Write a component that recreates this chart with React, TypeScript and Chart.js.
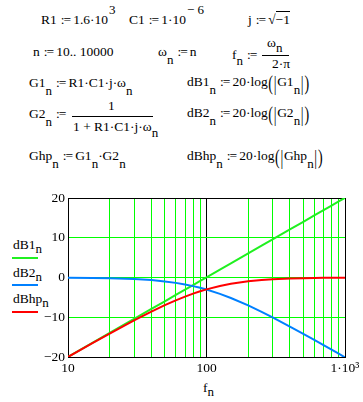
import React, { useEffect, useRef } from "react";
import { Chart, registerables } from "chart.js";
Chart.register(...registerables);

// frequency points (Hz) read along the log axis
const freqs = [10, 15, 20, 30, 40, 50, 60, 70, 80, 90, 100, 125, 150, 200, 250, 300, 400, 500, 600, 700, 800, 900, 1000];
// dB1 (green)
const dB1 = [-19.96, -16.43, -13.94, -10.41, -7.92, -5.98, -4.39, -3.05, -1.89, -0.87, 0.04, 1.98, 3.56, 6.06, 8.0, 9.59, 12.08, 14.02, 15.61, 16.95, 18.11, 19.13, 20.04];
// dB2 (blue)
const dB2 = [-0.04, -0.1, -0.17, -0.38, -0.65, -0.98, -1.35, -1.75, -2.17, -2.6, -3.03, -4.11, -5.15, -7.02, -8.64, -10.04, -12.35, -14.19, -15.72, -17.03, -18.17, -19.18, -20.09];
// dBhp (red)
const dBhp = [-20.0, -16.53, -14.11, -10.79, -8.57, -6.96, -5.74, -4.8, -4.06, -3.47, -2.99, -2.13, -1.59, -0.96, -0.64, -0.45, -0.26, -0.17, -0.12, -0.09, -0.07, -0.05, -0.04];

const xTicks = [10, 20, 30, 40, 50, 60, 70, 80, 90, 100, 200, 300, 400, 500, 600, 700, 800, 900, 1000];
const xTickLabels: Record<number, string> = { 10: "10", 100: "100", 1000: "1·10³" };
const yTicks = [-20, -10, 0, 10, 20];
const blackX = [10, 100, 1000];
const blackY = [-20, 20];

const GREEN = "#00ff00";
const LINE_GREEN = "#20f020";
const BLUE = "rgb(0,128,255)";
const RED = "#ff0000";
const FONT = "'Liberation Serif', 'Times New Roman', serif";
const FS = 13.5;

const Sub = ({ children, d = 8 }: { children: any; d?: number }) => (
  <span style={{ fontSize: 13, position: "relative", top: d }}>{children}</span>
);
const Sup = ({ children }: { children: any }) => (
  <span style={{ fontSize: 13, position: "relative", top: -10, marginLeft: 1 }}>{children}</span>
);
const Def = () => <span style={{ margin: "0 3px 0 4px", letterSpacing: "-1px" }}>:=</span>;
const Big = ({ children }: { children: any }) => (
  <span
    style={{
      display: "inline-block",
      transform: "translateY(2px) scaleY(1.5)",
      fontSize: 14,
      margin: "0 0.5px",
    }}
  >
    {children}
  </span>
);
// y is the text baseline
const T = ({ x, y, children }: { x: number; y: number; children: any }) => (
  <div
    style={{
      position: "absolute",
      left: x,
      top: y - 12,
      fontSize: FS,
      lineHeight: "15px",
      whiteSpace: "nowrap",
    }}
  >
    {children}
  </div>
);
const Bar = ({ x, y, w }: { x: number; y: number; w: number }) => (
  <div style={{ position: "absolute", left: x, top: y, width: w, height: 1, background: "#000" }} />
);

export default function App() {
  const ref = useRef<HTMLCanvasElement>(null);
  useEffect(() => {
    const mk = (ys: number[]) => freqs.map((f, i) => ({ x: f, y: ys[i] }));
    const chart = new Chart(ref.current!, {
      type: "line",
      data: {
        datasets: [
          { data: mk(dB1), borderColor: LINE_GREEN, borderWidth: 2, pointRadius: 0, order: 3, fill: false },
          { data: mk(dB2), borderColor: BLUE, borderWidth: 2, pointRadius: 0, order: 2, fill: false },
          { data: mk(dBhp), borderColor: RED, borderWidth: 2, pointRadius: 0, order: 1, fill: false },
        ],
      },
      options: {
        responsive: false,
        animation: false,
        layout: { padding: { left: 0, right: 18, top: 23, bottom: 0 } },
        plugins: { legend: { display: false }, tooltip: { enabled: false } },
        scales: {
          x: {
            type: "logarithmic",
            min: 10,
            max: 1000,
            afterBuildTicks: (s: any) => {
              s.ticks = xTicks.map((v) => ({ value: v }));
            },
            afterFit: (s: any) => {
              s.height = 45;
            },
            ticks: {
              autoSkip: false,
              maxRotation: 0,
              padding: 3,
              color: "#000",
              font: { family: FONT, size: 13.5 },
              callback: (v: any) => xTickLabels[v as number] ?? "",
            },
            grid: {
              drawTicks: false,
              lineWidth: 1,
              color: (ctx: any) => (ctx.tick && blackX.includes(ctx.tick.value) ? "#000" : GREEN),
            },
            border: { color: "#000", width: 1 },
          },
          y: {
            min: -20,
            max: 20,
            afterBuildTicks: (s: any) => {
              s.ticks = yTicks.map((v) => ({ value: v }));
            },
            afterFit: (s: any) => {
              s.width = 68;
            },
            ticks: {
              padding: 3,
              color: "#000",
              font: { family: FONT, size: 13.5 },
              callback: (v: any) => (v < 0 ? "−" + -v : String(v)),
            },
            grid: {
              drawTicks: false,
              lineWidth: 1,
              color: (ctx: any) => (ctx.tick && blackY.includes(ctx.tick.value) ? "#000" : GREEN),
            },
            border: { color: "#000", width: 1 },
          },
        },
      },
    } as any);
    return () => chart.destroy();
  }, []);

  return (
    <div
      style={{
        position: "absolute",
        left: 0,
        top: 0,
        width: 363,
        height: 402,
        background: "#fff",
        fontFamily: FONT,
        color: "#000",
        overflow: "hidden",
      }}
    >
      {/* Row 1 */}
      <T x={41} y={24}>
        R1<Def />1.6·10<Sup>3</Sup>
      </T>
      <T x={129} y={24}>
        C1<Def />1·10<Sup>− 6</Sup>
      </T>
      <T x={248} y={24}>
        j<Def />√<span style={{ borderTop: "1px solid #000" }}>−1</span>
      </T>
      {/* Row 2 */}
      <T x={33} y={56}>
        n<Def />10.. 10000
      </T>
      <T x={158} y={56}>
        ω<Sub>n</Sub>
        <Def />n
      </T>
      <T x={232} y={59}>
        f<Sub d={6}>n</Sub>
        <Def />
      </T>
      <T x={267} y={47}>
        ω<Sub d={5}>n</Sub>
      </T>
      <Bar x={262} y={55} w={27} />
      <T x={272} y={68}>
        2·π
      </T>
      {/* Row 3 */}
      <T x={29} y={87}>
        G1<Sub>n</Sub>
        <Def />R1·C1·j·ω<Sub>n</Sub>
      </T>
      <T x={187} y={86}>
        dB1<Sub>n</Sub>
        <Def />20·log<Big>(</Big>
        <Big>|</Big>G1<Sub>n</Sub>
        <Big>|</Big>
        <Big>)</Big>
      </T>
      {/* Row 4 */}
      <T x={29} y={118}>
        G2<Sub>n</Sub>
        <Def />
      </T>
      <T x={108} y={110}>
        1
      </T>
      <Bar x={72} y={116} w={81} />
      <T x={73} y={131}>
        1 + R1·C1·j·ω<Sub d={6}>n</Sub>
      </T>
      <T x={187} y={117}>
        dB2<Sub>n</Sub>
        <Def />20·log<Big>(</Big>
        <Big>|</Big>G2<Sub>n</Sub>
        <Big>|</Big>
        <Big>)</Big>
      </T>
      {/* Row 5 */}
      <T x={29} y={160}>
        Ghp<Sub>n</Sub>
        <Def />G1<Sub>n</Sub>·G2<Sub>n</Sub>
      </T>
      <T x={187} y={160}>
        dBhp<Sub>n</Sub>
        <Def />20·log<Big>(</Big>
        <Big>|</Big>Ghp<Sub>n</Sub>
        <Big>|</Big>
        <Big>)</Big>
      </T>

      {/* Legend */}
      <T x={13} y={249}>
        dB1<Sub d={4}>n</Sub>
      </T>
      <div style={{ position: "absolute", left: 12, top: 257, width: 26, height: 2, background: LINE_GREEN }} />
      <T x={13} y={277}>
        dB2<Sub d={4}>n</Sub>
      </T>
      <div style={{ position: "absolute", left: 12, top: 284, width: 26, height: 2, background: BLUE }} />
      <T x={13} y={303}>
        dBhp<Sub d={4}>n</Sub>
      </T>
      <div style={{ position: "absolute", left: 12, top: 311, width: 26, height: 2, background: RED }} />

      {/* x-axis title */}
      <T x={203} y={392}>
        f<Sub d={4}>n</Sub>
      </T>

      <canvas
        ref={ref}
        width={363}
        height={227}
        style={{ position: "absolute", left: 0, top: 175, width: 363, height: 227 }}
      />
    </div>
  );
}
